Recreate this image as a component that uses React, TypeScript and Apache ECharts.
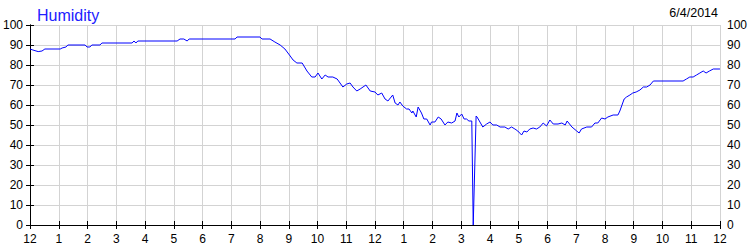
import React, { useEffect, useRef } from "react";
import * as echarts from "echarts";

const chartTitle = "Humidity";
const chartDate = "6/4/2014";
const xTickLabels = ["12","1","2","3","4","5","6","7","8","9","10","11","12","1","2","3","4","5","6","7","8","9","10","11","12"];
// minutes since midnight
const minutes = [
  0, 6, 17, 25, 31, 63, 67, 75, 79, 115, 119, 125, 129, 146, 150, 213, 217, 221, 225, 307,
  313, 321, 328, 332, 428, 432, 480, 484, 501, 511, 522, 532, 543, 549, 557, 568, 578, 588, 595, 601,
  609, 616, 622, 632, 641, 647, 653, 661, 668, 674, 682, 689, 701, 710, 720, 726, 734, 741, 747, 757,
  762, 768, 772, 778, 786, 791, 797, 799, 806, 810, 817, 822, 828, 835, 838, 845, 852, 858, 866, 872,
  880, 887, 891, 895, 901, 906, 911, 916, 922, 925, 931, 933, 939, 945, 953, 960, 966, 974, 981, 991,
  998, 1005, 1012, 1018, 1026, 1031, 1037, 1043, 1050, 1057, 1064, 1071, 1078, 1085, 1092, 1102, 1110, 1117, 1121, 1131,
  1141, 1146, 1151, 1162, 1172, 1179, 1185, 1193, 1200, 1206, 1217, 1227, 1231, 1240, 1245, 1252, 1258, 1265, 1273, 1280,
  1287, 1294, 1301, 1363, 1370, 1377, 1384, 1391, 1398, 1405, 1411, 1418, 1426, 1440
];
const humidity = [
  88, 87.5, 86.7, 87, 88, 88, 88.5, 89, 90, 90, 89, 89, 90, 90, 91, 91, 92, 91, 92, 92,
  93, 93, 92, 93, 93, 94, 94, 93, 93, 91.5, 90, 88, 84.5, 82.5, 81, 81, 77, 74, 74, 76,
  73, 75, 74, 74, 73, 71, 69, 70.5, 71, 69, 67, 68, 70, 67, 66.5, 65, 66, 63, 62, 65,
  61, 60, 61.5, 59.5, 58, 58, 56, 57, 54, 59, 56, 53, 53, 50, 51.5, 51.5, 54, 53, 50, 51.5,
  51, 52, 56, 54, 55.5, 53, 53, 52, 52, 0, 54.5, 54, 51.5, 49, 50.5, 51.5, 50, 50, 49, 49,
  48, 49, 48, 47, 45, 47, 46.5, 48, 48.5, 48, 49, 51, 49.5, 52.5, 50.5, 50.5, 51, 50, 52, 49,
  47, 46, 48, 49, 49, 51, 51, 53.5, 53, 54, 55, 55, 57, 63, 64, 65, 66, 66.5, 67.5, 69,
  69, 70, 72, 72, 73, 74, 74, 75, 76, 77, 76, 77, 78, 78
];

const FONT = "'Liberation Sans', Arial, sans-serif";

export default function App() {
  const ref = useRef<HTMLDivElement>(null);
  useEffect(() => {
    document.body.style.margin = "0";
    if (!ref.current) return;
    const chart = echarts.init(ref.current, null, { renderer: "svg" });
    const data = minutes.map((m, i) => [m, humidity[i]]);
    const yBase = {
      type: "value" as const,
      min: 0,
      max: 100,
      interval: 10,
      axisLine: { show: true, lineStyle: { color: "#000", width: 1 } },
      axisTick: { show: true, inside: true, length: 4, lineStyle: { color: "#000" } },
      axisLabel: { color: "#000", fontSize: 12, fontFamily: FONT, margin: 7 },
    };
    chart.setOption({
      animation: false,
      backgroundColor: "#fff",
      title: {
        text: chartTitle,
        left: 32,
        top: 2,
        textStyle: { color: "#2020ff", fontSize: 16, fontWeight: "normal", fontFamily: FONT },
      },
      graphic: [
        {
          type: "text",
          right: 32,
          top: 6,
          style: { text: chartDate, fill: "#000", font: `12.5px ${FONT}` },
        },
      ],
      grid: { left: 30, right: 30, top: 25, bottom: 25, containLabel: false },
      xAxis: [
        {
          type: "value",
          min: 0,
          max: 1440,
          interval: 60,
          axisLine: { show: true, lineStyle: { color: "#000", width: 1 } },
          axisTick: { show: true, inside: true, length: 4, lineStyle: { color: "#000" } },
          axisLabel: {
            color: "#000",
            fontSize: 12,
            fontFamily: FONT,
            margin: 8,
            formatter: (v: number) => xTickLabels[Math.round(v / 60)] ?? "",
          },
          splitLine: { show: true, lineStyle: { color: "#d3d3d3", width: 1 } },
        },
        {
          type: "value",
          position: "top",
          min: 0,
          max: 1440,
          interval: 60,
          axisLine: { show: true, lineStyle: { color: "#000", width: 1 } },
          axisTick: { show: true, inside: true, length: 4, lineStyle: { color: "#000" } },
          axisLabel: { show: false },
          splitLine: { show: false },
        },
      ],
      yAxis: [
        { ...yBase, position: "left", splitLine: { show: true, lineStyle: { color: "#d3d3d3", width: 1 } } },
        { ...yBase, position: "right", splitLine: { show: false } },
      ],
      series: [
        {
          type: "line",
          data,
          xAxisIndex: 0,
          yAxisIndex: 0,
          showSymbol: false,
          symbol: "none",
          lineStyle: { color: "#0000ff", width: 1 },
        },
      ],
    });
    return () => chart.dispose();
  }, []);
  return <div ref={ref} style={{ width: 750, height: 250 }} />;
}
